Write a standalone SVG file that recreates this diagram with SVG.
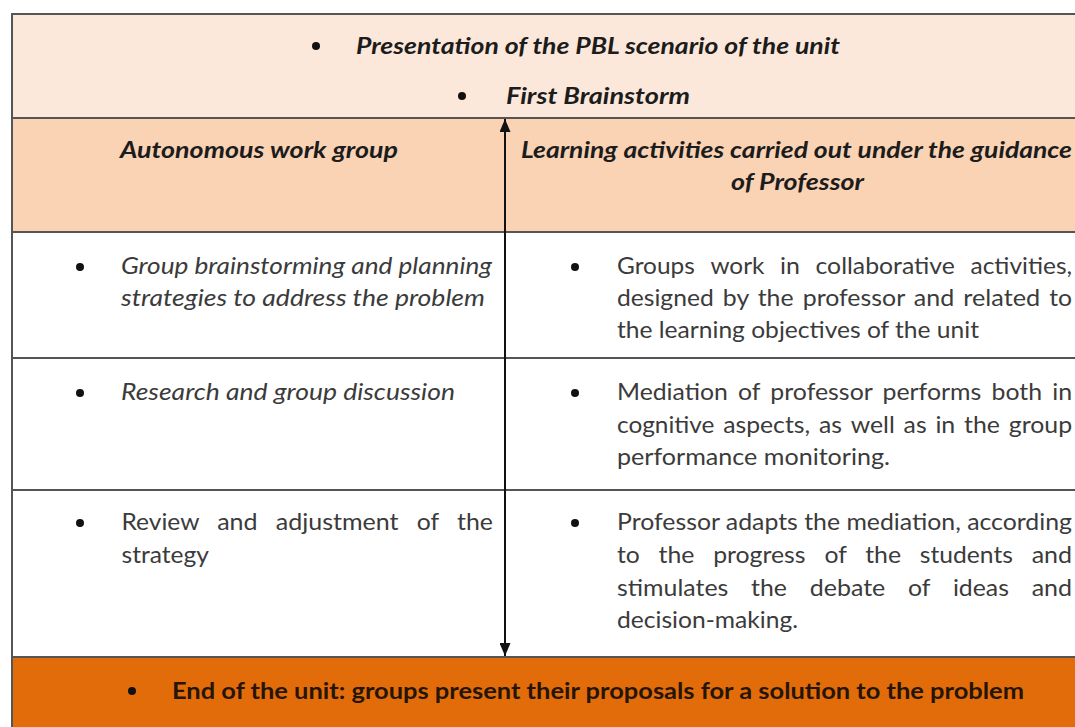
<svg xmlns="http://www.w3.org/2000/svg" width="1075" height="727" viewBox="0 0 1075 727">
<defs>
<style>
.t{font-family:Lato,"Liberation Sans",sans-serif;font-size:24px}
.h{font-family:Lato,"Liberation Sans",sans-serif;font-size:22px}
.bi{font-weight:bold;font-style:italic;fill:#1c1c1c}
.it{font-style:italic;fill:#3b3b3b}
.rg{fill:#3b3b3b}
.bd{font-weight:bold;fill:#261505}
.bul{fill:#111}
.rule{stroke:#555;stroke-width:2;fill:none}
.arrow{stroke:#111;stroke-width:2;fill:none}
</style>
<marker id="ah" viewBox="0 0 13 11" refX="13" refY="5.5" markerWidth="13" markerHeight="11" markerUnits="userSpaceOnUse" orient="auto-start-reverse">
<path d="M0,0 L13,5.5 L0,11 z" fill="#111"/>
</marker>
</defs>
<rect width="1075" height="727" fill="#ffffff"/>

<g id="node-intro">
<rect x="12" y="14" width="1063" height="104" fill="#FCE8DA"/>
<circle class="bul" cx="316" cy="46" r="4"/>
<text class="h bi" x="356" y="54" textLength="484" lengthAdjust="spacingAndGlyphs">Presentation of the PBL scenario of the unit</text>
<circle class="bul" cx="462" cy="96" r="4"/>
<text class="h bi" x="506" y="104" textLength="184" lengthAdjust="spacingAndGlyphs">First Brainstorm</text>
</g>

<g id="node-header-left">
<rect x="12" y="118" width="493" height="114" fill="#FAD2B4"/>
<text class="h bi" x="120" y="158" textLength="278" lengthAdjust="spacingAndGlyphs">Autonomous work group</text>
</g>

<g id="node-header-right">
<rect x="505" y="118" width="570" height="114" fill="#FAD2B4"/>
<text class="h bi" x="521" y="158" textLength="551" lengthAdjust="spacingAndGlyphs">Learning activities carried out under the guidance</text>
<text class="h bi" x="731" y="190" textLength="133" lengthAdjust="spacingAndGlyphs">of Professor</text>
</g>

<g id="node-row1-left">
<circle class="bul" cx="80" cy="267" r="4"/>
<text class="t it" x="121" y="274" textLength="371" lengthAdjust="spacingAndGlyphs">Group brainstorming and planning</text>
<text class="t it" x="121" y="306" textLength="364" lengthAdjust="spacingAndGlyphs">strategies to address the problem</text>
</g>

<g id="node-row1-right">
<circle class="bul" cx="575" cy="267" r="4"/>
<text class="t rg" y="274" lengthAdjust="spacingAndGlyphs"><tspan x="617" textLength="77.8" lengthAdjust="spacingAndGlyphs">Groups</tspan> <tspan x="710.4" textLength="54" lengthAdjust="spacingAndGlyphs">work</tspan> <tspan x="780" textLength="19.9" lengthAdjust="spacingAndGlyphs">in</tspan> <tspan x="815.5" textLength="139.4" lengthAdjust="spacingAndGlyphs">collaborative</tspan> <tspan x="970.5" textLength="101.6" lengthAdjust="spacingAndGlyphs">activities,</tspan></text>
<text class="t rg" y="306"><tspan x="617" textLength="96.7" lengthAdjust="spacingAndGlyphs">designed</tspan> <tspan x="722.8" textLength="25.8" lengthAdjust="spacingAndGlyphs">by</tspan> <tspan x="757.7" textLength="35.9" lengthAdjust="spacingAndGlyphs">the</tspan> <tspan x="802.7" textLength="102" lengthAdjust="spacingAndGlyphs">professor</tspan> <tspan x="913.8" textLength="40.4" lengthAdjust="spacingAndGlyphs">and</tspan> <tspan x="963.3" textLength="76.9" lengthAdjust="spacingAndGlyphs">related</tspan> <tspan x="1049.3" textLength="22.8" lengthAdjust="spacingAndGlyphs">to</tspan></text>
<text class="t rg" x="617" y="338" textLength="362" lengthAdjust="spacingAndGlyphs">the learning objectives of the unit</text>
</g>

<g id="node-row2-left">
<circle class="bul" cx="80" cy="393" r="4"/>
<text class="t it" x="121" y="400" textLength="334" lengthAdjust="spacingAndGlyphs">Research and group discussion</text>
</g>

<g id="node-row2-right">
<circle class="bul" cx="575" cy="393" r="4"/>
<text class="t rg" y="400"><tspan x="617" textLength="110.9" lengthAdjust="spacingAndGlyphs">Mediation</tspan> <tspan x="738.1" textLength="22" lengthAdjust="spacingAndGlyphs">of</tspan> <tspan x="770.3" textLength="102" lengthAdjust="spacingAndGlyphs">professor</tspan> <tspan x="882.5" textLength="98.8" lengthAdjust="spacingAndGlyphs">performs</tspan> <tspan x="991.5" textLength="50.5" lengthAdjust="spacingAndGlyphs">both</tspan> <tspan x="1052.2" textLength="19.9" lengthAdjust="spacingAndGlyphs">in</tspan></text>
<text class="t rg" y="433"><tspan x="617" textLength="97.4" lengthAdjust="spacingAndGlyphs">cognitive</tspan> <tspan x="723.2" textLength="86.9" lengthAdjust="spacingAndGlyphs">aspects,</tspan> <tspan x="818.9" textLength="23" lengthAdjust="spacingAndGlyphs">as</tspan> <tspan x="850.7" textLength="44.1" lengthAdjust="spacingAndGlyphs">well</tspan> <tspan x="903.6" textLength="23" lengthAdjust="spacingAndGlyphs">as</tspan> <tspan x="935.4" textLength="19.9" lengthAdjust="spacingAndGlyphs">in</tspan> <tspan x="964.1" textLength="35.9" lengthAdjust="spacingAndGlyphs">the</tspan> <tspan x="1008.8" textLength="63.3" lengthAdjust="spacingAndGlyphs">group</tspan></text>
<text class="t rg" x="617" y="465" textLength="273" lengthAdjust="spacingAndGlyphs">performance monitoring.</text>
</g>

<g id="node-row3-left">
<circle class="bul" cx="80" cy="523" r="4"/>
<text class="t rg" y="530"><tspan x="121.5" textLength="77.5" lengthAdjust="spacingAndGlyphs">Review</tspan> <tspan x="217.2" textLength="40.4" lengthAdjust="spacingAndGlyphs">and</tspan> <tspan x="275.8" textLength="122.8" lengthAdjust="spacingAndGlyphs">adjustment</tspan> <tspan x="416.8" textLength="22" lengthAdjust="spacingAndGlyphs">of</tspan> <tspan x="457" textLength="35.9" lengthAdjust="spacingAndGlyphs">the</tspan></text>
<text class="t rg" x="121.5" y="563" textLength="87.4" lengthAdjust="spacingAndGlyphs">strategy</text>
</g>

<g id="node-row3-right">
<circle class="bul" cx="575" cy="523" r="4"/>
<text class="t rg" x="617" y="530" textLength="455" lengthAdjust="spacingAndGlyphs">Professor adapts the mediation, according</text>
<text class="t rg" y="563"><tspan x="617" textLength="22.8" lengthAdjust="spacingAndGlyphs">to</tspan> <tspan x="658.6" textLength="35.9" lengthAdjust="spacingAndGlyphs">the</tspan> <tspan x="713.2" textLength="92.4" lengthAdjust="spacingAndGlyphs">progress</tspan> <tspan x="824.4" textLength="22" lengthAdjust="spacingAndGlyphs">of</tspan> <tspan x="865.2" textLength="35.9" lengthAdjust="spacingAndGlyphs">the</tspan> <tspan x="919.8" textLength="93.1" lengthAdjust="spacingAndGlyphs">students</tspan> <tspan x="1031.7" textLength="40.4" lengthAdjust="spacingAndGlyphs">and</tspan></text>
<text class="t rg" y="596"><tspan x="617" textLength="111.3" lengthAdjust="spacingAndGlyphs">stimulates</tspan> <tspan x="751.1" textLength="35.9" lengthAdjust="spacingAndGlyphs">the</tspan> <tspan x="809.8" textLength="75.5" lengthAdjust="spacingAndGlyphs">debate</tspan> <tspan x="908.1" textLength="22" lengthAdjust="spacingAndGlyphs">of</tspan> <tspan x="952.9" textLength="56" lengthAdjust="spacingAndGlyphs">ideas</tspan> <tspan x="1031.7" textLength="40.4" lengthAdjust="spacingAndGlyphs">and</tspan></text>
<text class="t rg" x="617" y="628" textLength="181" lengthAdjust="spacingAndGlyphs">decision-making.</text>
</g>

<g id="node-end">
<rect x="12" y="657" width="1063" height="70" fill="#E36C0A"/>
<circle class="bul" cx="132" cy="691" r="4"/>
<text class="h bd" x="172" y="699" textLength="852" lengthAdjust="spacingAndGlyphs">End of the unit: groups present their proposals for a solution to the problem</text>
</g>

<g id="rules">
<line class="rule" x1="12" y1="14" x2="1075" y2="14"/>
<line class="rule" x1="12" y1="13" x2="12" y2="727"/>
<line class="rule" x1="12" y1="118" x2="1075" y2="118"/>
<line class="rule" x1="12" y1="232" x2="1075" y2="232"/>
<line class="rule" x1="12" y1="358" x2="1075" y2="358"/>
<line class="rule" x1="12" y1="490" x2="1075" y2="490"/>
<line class="rule" x1="12" y1="657" x2="1075" y2="657"/>
</g>

<g id="connectors">
<line class="arrow" x1="505" y1="119" x2="505" y2="656" marker-start="url(#ah)" marker-end="url(#ah)"/>
</g>
</svg>
